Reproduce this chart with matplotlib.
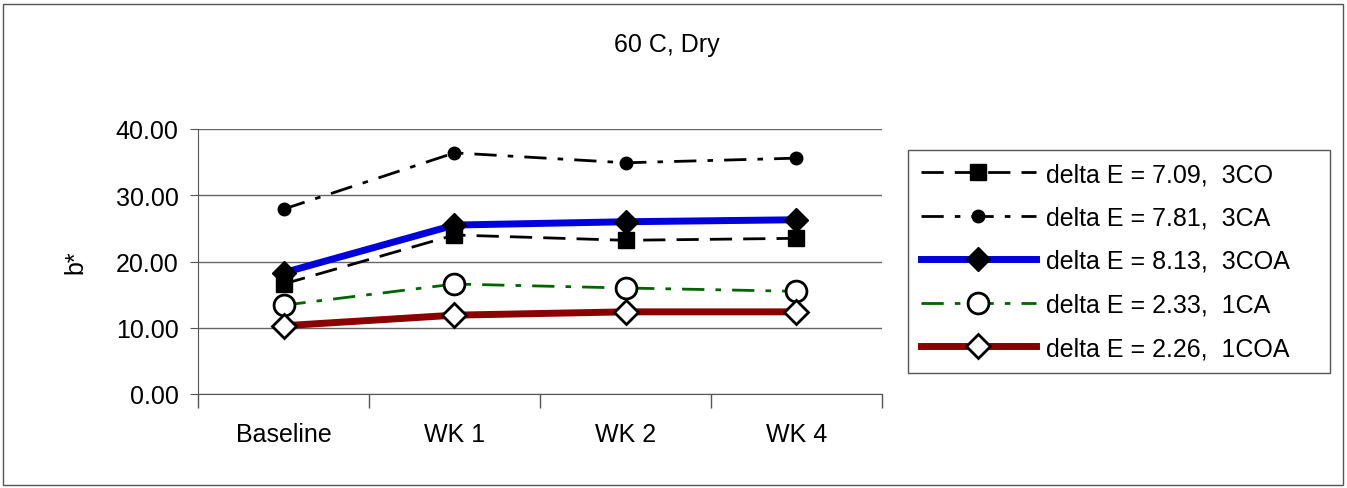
import numpy as np
import matplotlib.pyplot as plt
from matplotlib.patches import Rectangle

plt.rcParams['font.family'] = ['Liberation Sans', 'DejaVu Sans']

categories = ['Baseline', 'WK 1', 'WK 2', 'WK 4']
b_3co = [16.6, 24.0, 23.2, 23.5]
b_3ca = [27.9, 36.4, 34.9, 35.6]
b_3coa = [18.3, 25.5, 26.0, 26.3]
b_1ca = [13.4, 16.6, 16.0, 15.5]
b_1coa = [10.3, 11.9, 12.4, 12.4]
labels = ['delta E = 7.09,  3CO', 'delta E = 7.81,  3CA', 'delta E = 8.13,  3COA',
          'delta E = 2.33,  1CA', 'delta E = 2.26,  1COA']

fig = plt.figure(figsize=(13.47, 4.89), dpi=100)
ax = fig.add_axes([198/1347, 1-395/489, (882-198)/1347, (395-130)/489])

x = np.arange(len(categories)) + 0.5

ax.plot(x, b_3co, color='black', lw=2, dashes=(8, 4), marker='s', ms=11, label=labels[0])
ax.plot(x, b_3ca, color='black', lw=2, dashes=(8, 4, 2, 4), marker='o', ms=9, label=labels[1])
ax.plot(x, b_3coa, color='#0000dd', lw=5, marker='D', ms=12, mfc='black', mec='black', label=labels[2])
ax.plot(x, b_1ca, color='#006400', lw=2, dashes=(8, 4, 2, 4), marker='o', ms=15,
        mfc='white', mec='black', mew=2, label=labels[3])
ax.plot(x, b_1coa, color='#8b0000', lw=5, marker='D', ms=12, mfc='white', mec='black',
        mew=2, label=labels[4])

ax.set_xlim(0, 4)
ax.set_ylim(0, 40)
ax.set_yticks([0, 10, 20, 30, 40])
ax.set_yticklabels(['%.2f' % v for v in [0, 10, 20, 30, 40]], fontsize=18)
ax.set_xticks([0, 1, 2, 3, 4])
ax.set_xticklabels([])
ax.set_xticks(x, minor=True)
ax.set_xticklabels(categories, minor=True, fontsize=18)
ax.tick_params(axis='x', which='minor', length=0, pad=20)
ax.tick_params(axis='x', which='major', length=10, width=1, color='#555555')
ax.tick_params(axis='y', length=6, color='#555555', pad=8)
ax.yaxis.grid(True, color='#666666', lw=1)
ax.set_axisbelow(True)
ax.spines['top'].set_visible(False)
ax.spines['right'].set_visible(False)
ax.spines['left'].set_color('#555555')
ax.spines['bottom'].set_color('#555555')
ax.set_ylabel('b*', fontsize=18, labelpad=20)

fig.text(667/1347, 1-45/489, '60 C, Dry', fontsize=18, ha='center', va='center')

leg = ax.legend(loc='center left', bbox_to_anchor=(908/1347, 1-372/489, (1330-908)/1347, (372-152)/489),
                bbox_transform=fig.transFigure, mode='expand', fontsize=18, handlelength=4.6,
                fancybox=False, edgecolor='#555555', framealpha=1, borderpad=0.5,
                labelspacing=0.78, handletextpad=0.4, borderaxespad=0)
leg.get_frame().set_linewidth(1)

fig.patches.append(Rectangle((3/1347, 3/489), 1-7/1347, 1-8/489, transform=fig.transFigure,
                             fill=False, edgecolor='#555555', lw=1))

fig.savefig('out.png', dpi=100)
